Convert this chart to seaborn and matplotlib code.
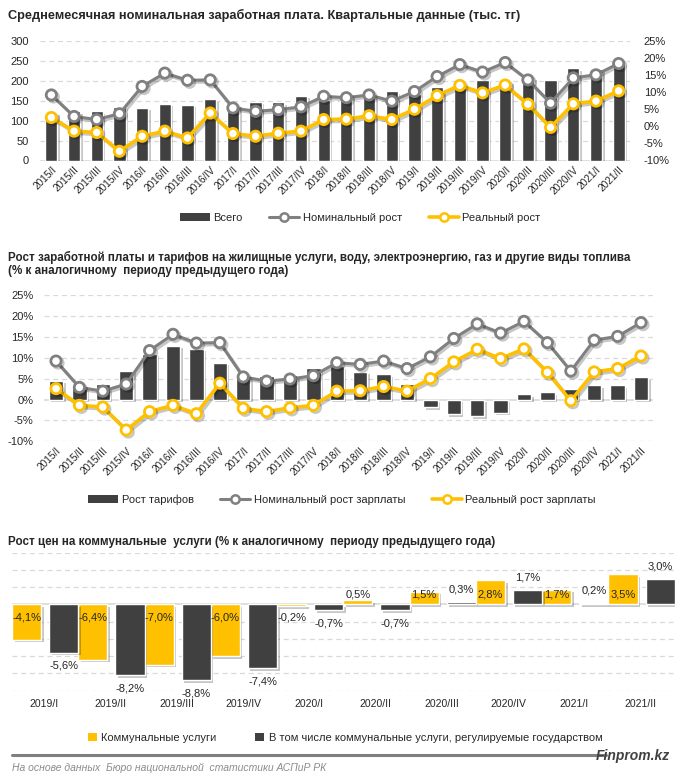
import numpy as np
import pandas as pd
import matplotlib
matplotlib.use("Agg")
import matplotlib.pyplot as plt
import matplotlib.patheffects as pe
from matplotlib.lines import Line2D
from matplotlib.patches import Patch
import seaborn as sns

# ---------------- data ----------------
quarters = ["2015/I", "2015/II", "2015/III", "2015/IV", "2016/I", "2016/II", "2016/III", "2016/IV",
            "2017/I", "2017/II", "2017/III", "2017/IV", "2018/I", "2018/II", "2018/III", "2018/IV",
            "2019/I", "2019/II", "2019/III", "2019/IV", "2020/I", "2020/II", "2020/III", "2020/IV",
            "2021/I", "2021/II"]
wage_total = [120, 124, 124, 134.5, 133, 142, 140, 154, 140, 148, 146, 162, 152, 161, 160, 174,
              168, 184.5, 190, 203, 199, 209, 203, 231, 229, 246]
nominal_growth = [9.2, 2.9, 2.0, 3.7, 11.7, 15.6, 13.5, 13.6, 5.4, 4.4, 4.9, 5.7, 8.8, 8.4, 9.2, 7.4,
                  10.2, 14.6, 18.1, 15.9, 18.7, 13.6, 6.8, 14.2, 15.1, 18.4]
real_growth = [2.6, -1.4, -1.8, -7.3, -2.9, -1.4, -3.4, 3.9, -2.1, -2.9, -2.0, -1.4, 2.0, 2.1, 3.1, 2.0,
               5.0, 9.0, 12.0, 9.8, 12.1, 6.5, -0.3, 6.6, 7.4, 10.4]
tariff_growth = [4.5, 3.0, 3.7, 6.9, 11.0, 12.8, 12.1, 8.8, 5.3, 5.6, 5.9, 7.5, 8.0, 6.6, 6.0, 3.7,
                 -1.8, -3.5, -4.0, -3.2, 1.3, 1.7, 2.5, 3.4, 3.4, 5.3]

util_quarters = ["2019/I", "2019/II", "2019/III", "2019/IV", "2020/I", "2020/II", "2020/III",
                 "2020/IV", "2021/I", "2021/II"]
util_all = [-4.1, -6.4, -7.0, -6.0, -0.2, 0.5, 1.5, 2.8, 1.7, 3.5]
util_regulated = [-5.6, -8.2, -8.8, -7.4, -0.7, -0.7, 0.3, 1.7, 0.2, 3.0]

title1 = "Среднемесячная номинальная заработная плата. Квартальные данные (тыс. тг)"
title2a = "Рост заработной платы и тарифов на жилищные услуги, воду, электроэнергию, газ и другие виды топлива"
title2b = "(% к аналогичному  периоду предыдущего года)"
title3 = "Рост цен на коммунальные  услуги (% к аналогичному  периоду предыдущего года)"

# ---------------- style ----------------
sns.set_style("white")
plt.rcParams["font.family"] = ["Liberation Sans", "DejaVu Sans"]
TXT = "#262626"
DARK = "#404040"
GRAY = "#808080"
GOLD = "#FFC000"
GRID = "#d9d9d9"

W, H = 678, 782
fig = plt.figure(figsize=(W / 100, H / 100), dpi=100)


def rect(l, t, r, b):
    return [l / W, 1 - b / H, (r - l) / W, (b - t) / H]


bar_shadow = [pe.SimplePatchShadow(offset=(1.8, -1.8), shadow_rgbFace="black", alpha=0.22), pe.Normal()]
line_shadow = [pe.SimpleLineShadow(offset=(1.5, -1.5), shadow_color="black", alpha=0.22), pe.Normal()]


def clean(ax):
    for s in ax.spines.values():
        s.set_visible(False)
    ax.set_xlabel("")
    ax.set_ylabel("")


def pct_labels(vals):
    return [f"{v}%" for v in vals]


def draw_line(ax, x, y, color, lw):
    sns.lineplot(x=x, y=y, ax=ax, color=color, lw=lw, marker="o", markersize=7.4,
                 markerfacecolor="white", markeredgecolor=color, markeredgewidth=2.0,
                 path_effects=line_shadow, zorder=5, legend=False)


n = len(quarters)
xi = np.arange(n)

# ---------------- chart 1 ----------------
ax1 = fig.add_axes(rect(40, 41, 630, 160.5))
df1 = pd.DataFrame({"q": quarters, "v": wage_total})
sns.barplot(data=df1, x="q", y="v", color=DARK, saturation=1, width=0.54, ax=ax1, zorder=3)
for p in ax1.patches:
    p.set_path_effects(bar_shadow)
ax1.set_ylim(0, 300)
ax1.set_yticks(range(0, 301, 50))
for y in range(50, 301, 50):
    ax1.axhline(y, color=GRID, lw=0.9, ls=(0, (4, 3)), zorder=0)
ax1.axhline(0, color=GRID, lw=1.2, zorder=1)
ax1.set_xticks(xi)
ax1.set_xticklabels(quarters, rotation=45, ha="right", rotation_mode="anchor", fontsize=7.3, color=TXT)
ax1.tick_params(axis="x", length=0, pad=3)
ax1.tick_params(axis="y", length=0, pad=8, labelsize=8, labelcolor=TXT)
clean(ax1)

ax1r = ax1.twinx()
draw_line(ax1r, xi, nominal_growth, GRAY, 2.2)
draw_line(ax1r, xi, real_growth, GOLD, 2.6)
ax1r.set_ylim(-10, 25)
ticks_r = list(range(-10, 26, 5))
ax1r.set_yticks(ticks_r)
ax1r.set_yticklabels(pct_labels(ticks_r))
ax1r.tick_params(axis="y", length=0, pad=10, labelsize=8, labelcolor=TXT)
clean(ax1r)
ax1.set_xlim(-0.5, n - 0.5)
ax1r.set_xlim(-0.5, n - 0.5)

fig.text(8 / W, 1 - 15 / H, title1, fontsize=9.2, fontweight="bold", color=TXT, va="center")

h1 = [Patch(facecolor=DARK, edgecolor="none"),
      Line2D([], [], color=GRAY, lw=2.2, marker="o", markersize=6, markerfacecolor="white",
             markeredgecolor=GRAY, markeredgewidth=1.8),
      Line2D([], [], color=GOLD, lw=2.6, marker="o", markersize=6, markerfacecolor="white",
             markeredgecolor=GOLD, markeredgewidth=1.8)]
fig.legend(h1, ["Всего", "Номинальный рост", "Реальный рост"], loc="center",
           bbox_to_anchor=(360 / W, 1 - 218 / H), ncol=3, frameon=False, fontsize=8,
           handlelength=2.7, handleheight=0.7, columnspacing=2.4, handletextpad=0.3,
           labelcolor=TXT)

# ---------------- chart 2 ----------------
ax2 = fig.add_axes(rect(44.3, 295, 652.7, 441.3))
df2 = pd.DataFrame({"q": quarters, "v": tariff_growth})
sns.barplot(data=df2, x="q", y="v", color=DARK, saturation=1, width=0.61, ax=ax2, zorder=3)
for p in ax2.patches:
    p.set_path_effects(bar_shadow)
draw_line(ax2, xi, nominal_growth, GRAY, 2.2)
draw_line(ax2, xi, real_growth, GOLD, 2.6)
ax2.set_ylim(-10, 25)
ticks2 = list(range(-10, 26, 5))
ax2.set_yticks(ticks2)
ax2.set_yticklabels(pct_labels(ticks2))
for y in ticks2:
    if y != 0:
        ax2.axhline(y, color=GRID, lw=0.9, ls=(0, (4, 3)), zorder=0)
ax2.axhline(0, color=GRID, lw=1.2, zorder=1)
ax2.set_xlim(-0.5, n - 0.5)
ax2.set_xticks(xi)
ax2.set_xticklabels(quarters, rotation=45, ha="right", rotation_mode="anchor", fontsize=7.3, color=TXT)
ax2.tick_params(axis="x", length=0, pad=3)
ax2.tick_params(axis="y", length=0, pad=8, labelsize=8, labelcolor=TXT)
clean(ax2)

fig.text(8 / W, 1 - 257 / H, title2a, fontsize=8.4, fontweight="bold", color=TXT, va="center")
fig.text(8 / W, 1 - 271 / H, title2b, fontsize=8.4, fontweight="bold", color=TXT, va="center")

h2 = [Patch(facecolor=DARK, edgecolor="none"),
      Line2D([], [], color=GRAY, lw=2.2, marker="o", markersize=6, markerfacecolor="white",
             markeredgecolor=GRAY, markeredgewidth=1.8),
      Line2D([], [], color=GOLD, lw=2.6, marker="o", markersize=6, markerfacecolor="white",
             markeredgecolor=GOLD, markeredgewidth=1.8)]
fig.legend(h2, ["Рост тарифов", "Номинальный рост зарплаты", "Реальный рост зарплаты"], loc="center",
           bbox_to_anchor=(342 / W, 1 - 500 / H), ncol=3, frameon=False, fontsize=8,
           handlelength=2.7, handleheight=0.7, columnspacing=2.4, handletextpad=0.3,
           labelcolor=TXT)

# ---------------- chart 3 ----------------
ax3 = fig.add_axes(rect(12, 552.7, 675, 690.7))
ui = np.arange(len(util_quarters))
sns.barplot(x=ui - 0.265, y=util_all, native_scale=True, orient="x", width=0.44, color=GOLD,
            saturation=1, ax=ax3, zorder=3)
sns.barplot(x=ui + 0.295, y=util_regulated, native_scale=True, orient="x", width=0.44, color=DARK,
            saturation=1, ax=ax3, zorder=3)
for p in ax3.patches:
    p.set_path_effects(bar_shadow)
ax3.set_ylim(-10, 6)
for y in range(-10, 7, 2):
    if y != 0:
        ax3.axhline(y, color=GRID, lw=0.9, ls=(0, (4, 3)), zorder=0)
ax3.axhline(0, color=GRID, lw=1.2, zorder=1)
ax3.set_xlim(-0.485, 9.52)
ax3.set_xticks(ui)
ax3.set_xticklabels(util_quarters, fontsize=7.5, color=TXT)
ax3.tick_params(axis="x", length=0, pad=6)
ax3.set_yticks([])
clean(ax3)

PX = 72 / 100  # points per pixel


def fmt(v):
    return f"{v:.1f}%".replace(".", ",")


for i, v in enumerate(util_all):
    dy = -10 if v > 0 else 13.5
    ax3.annotate(fmt(v), xy=(i - 0.265, 0), xytext=(0, -dy * PX), textcoords="offset points",
                 ha="center", va="center", fontsize=8, color=TXT, zorder=6)
for i, v in enumerate(util_regulated):
    dy = -12 if v > 0 else 13
    ax3.annotate(fmt(v), xy=(i + 0.295, v), xytext=(0, -dy * PX), textcoords="offset points",
                 ha="center", va="center", fontsize=8, color=TXT, zorder=6)

fig.text(8 / W, 1 - 542 / H, title3, fontsize=8.4, fontweight="bold", color=TXT, va="center")

h3 = [Patch(facecolor=GOLD, edgecolor="none"), Patch(facecolor=DARK, edgecolor="none")]
fig.legend(h3, ["Коммунальные услуги", "В том числе коммунальные услуги, регулируемые государством"],
           loc="center", bbox_to_anchor=(345 / W, 1 - 738 / H), ncol=2, frameon=False, fontsize=8,
           handlelength=0.8, handleheight=0.8, columnspacing=3.5, handletextpad=0.4,
           labelcolor=TXT)

# ---------------- footer ----------------
fig.add_artist(Line2D([12 / W, 606 / W], [1 - 755 / H, 1 - 755 / H], color="#7f7f7f", lw=2.2))
fig.text(670 / W, 1 - 756 / H, "Finprom.kz", ha="right", va="center", fontsize=10,
         fontweight="bold", style="italic", color="#404040")
fig.text(12 / W, 1 - 768 / H, "На основе данных  Бюро национальной  статистики АСПиР РК",
         ha="left", va="center", fontsize=7.5, style="italic", color="#8c8c8c")

fig.savefig("out.png", dpi=100)
